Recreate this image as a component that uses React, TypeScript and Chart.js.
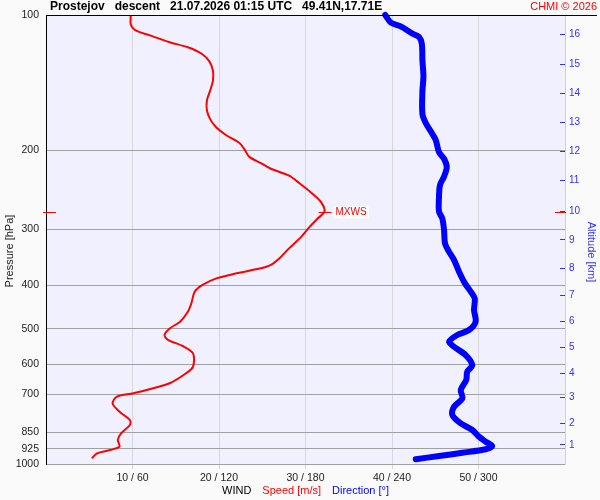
import React, { useEffect, useRef } from "react";
import { Chart, registerables } from "chart.js";

Chart.register(...registerables);

const FONT = "'Liberation Sans', Arial, Helvetica, sans-serif";

const titleText = "Prostejov   descent   21.07.2026 01:15 UTC   49.41N,17.71E";
const creditText = "CHMI \u00a9 2026";
const legendParts = ["WIND", "Speed [m/s]", "Direction [\u00b0]"];

// left axis (pressure, hPa)
const pressureTicks = [100, 200, 300, 400, 500, 600, 700, 850, 925, 1000];
// bottom axis (speed m/s / direction deg)
const windTicks = [10, 20, 30, 40, 50];
const windTickLabels = ["10 / 60", "20 / 120", "30 / 180", "40 / 240", "50 / 300"];
// right axis (altitude km placed at the pressure where it is reached)
const altitudeKm = ["16", "15", "14", "13", "12", "11", "10", "9", "8", "7", "6", "5", "4", "3", "2", "1"];
const altitudePressure = [110.6, 128.8, 149.7, 173.4, 200.9, 233.4, 274.2, 317.0, 366.0, 421.0, 482.0, 549.6, 627.1, 709.3, 811.5, 907.1];

// wind speed profile (hPa, m/s)
const speedPressure = [971, 947, 931, 915, 884, 854, 819, 798, 765, 733, 708, 696, 678, 661, 628, 607, 567, 546, 529, 516, 499, 482, 458, 439, 413, 399, 386, 376, 367, 360, 348, 331, 312, 296, 284, 274, 261, 250, 237, 228, 220, 214, 207, 200, 193, 185, 178, 171, 163, 155, 147, 140, 133, 127, 122, 118, 115, 111, 108, 105, 100];
const speedValues = [5.3, 5.9, 7.4, 8.5, 8.3, 8.7, 9.7, 9.7, 8.5, 7.7, 8.2, 10.1, 12.4, 14.3, 16.2, 17.0, 17.0, 15.8, 14.1, 13.7, 14.3, 15.5, 16.4, 16.8, 17.2, 18.1, 19.7, 22.0, 24.7, 26.0, 27.0, 28.1, 29.5, 30.5, 31.4, 32.2, 31.8, 30.8, 29.3, 28.1, 26.0, 24.9, 23.5, 23.0, 22.4, 20.8, 19.7, 19.0, 18.6, 18.6, 19.0, 19.3, 19.3, 18.9, 18.0, 16.4, 14.3, 12.0, 10.3, 9.8, 9.8];

// wind direction profile (hPa, deg)
const dirPressure = [976, 960, 944, 927, 912, 892, 869, 840, 812, 778, 746, 714, 684, 650, 623, 602, 572, 548, 534, 516, 503, 482, 454, 428, 413, 396, 373, 351, 337, 323, 301, 284, 274, 254, 239, 229, 218, 209, 202, 190, 184, 174, 166, 148, 137, 126, 116, 112, 110, 106, 104, 100];
const dirValues = [256.5, 272.6, 288.8, 305.0, 309.5, 305.0, 300.3, 295.7, 287.7, 281.9, 283.0, 288.8, 287.7, 291.5, 292.2, 295.7, 291.1, 283.0, 279.6, 285.3, 293.4, 298.0, 296.9, 297.4, 294.6, 290.6, 286.5, 283.0, 279.6, 276.8, 276.1, 274.9, 272.6, 272.6, 273.3, 276.1, 278.0, 276.1, 272.6, 270.4, 268.0, 263.4, 261.1, 261.1, 261.8, 261.1, 260.7, 258.8, 254.2, 246.1, 239.2, 235.3];

const bgPlugin = {
  id: "bgPlugin",
  beforeDraw(chart: any) {
    const { ctx, chartArea: a } = chart;
    ctx.save();
    ctx.fillStyle = "#fafafa";
    ctx.fillRect(0, 0, chart.width, chart.height);
    ctx.fillStyle = "#f0f0ff";
    ctx.fillRect(a.left, a.top, a.right - a.left, a.bottom - a.top);
    ctx.restore();
  },
};

const overlayPlugin = {
  id: "overlayPlugin",
  afterDraw(chart: any) {
    const { ctx, chartArea: a, scales } = chart;
    ctx.save();
    // top frame line
    ctx.strokeStyle = "#000000";
    ctx.lineWidth = 1;
    ctx.beginPath();
    ctx.moveTo(a.left, a.top + 0.5);
    ctx.lineTo(597, a.top + 0.5);
    ctx.stroke();

    // title + credit
    ctx.textBaseline = "middle";
    ctx.font = `bold 12px ${FONT}`;
    ctx.fillStyle = "#000000";
    ctx.textAlign = "left";
    ctx.fillText(titleText, 50, 7);
    ctx.font = `11px ${FONT}`;
    ctx.fillStyle = "#ff0000";
    ctx.textAlign = "right";
    ctx.fillText(creditText, 597, 7);

    // axis titles
    ctx.font = `11px ${FONT}`;
    ctx.textAlign = "center";
    ctx.save();
    ctx.translate(10, 251);
    ctx.rotate(-Math.PI / 2);
    ctx.fillStyle = "#222222";
    ctx.fillText("Pressure [hPa]", 0, 0);
    ctx.restore();
    ctx.save();
    ctx.translate(591, 252);
    ctx.rotate(Math.PI / 2);
    ctx.fillStyle = "#3030ff";
    ctx.fillText("Altitude [km]", 0, 0);
    ctx.restore();

    // bottom legend
    const colors = ["#000000", "#ff0000", "#0000ff"];
    const gap = 11;
    const widths = legendParts.map((t) => ctx.measureText(t).width);
    const total = widths.reduce((s, w) => s + w, 0) + gap * (legendParts.length - 1);
    let lx = (a.left + a.right) / 2 - total / 2;
    ctx.textAlign = "left";
    legendParts.forEach((t, i) => {
      ctx.fillStyle = colors[i];
      ctx.fillText(t, lx, 491);
      lx += widths[i] + gap;
    });

    // MXWS marker at maximum wind speed
    let mi = 0;
    speedValues.forEach((v, i) => {
      if (v > speedValues[mi]) mi = i;
    });
    const px = scales.x.getPixelForValue(speedValues[mi]);
    const py = Math.round(scales.y.getPixelForValue(speedPressure[mi])) + 0.5;
    ctx.strokeStyle = "#ff0000";
    ctx.lineWidth = 1;
    ctx.beginPath();
    ctx.moveTo(px - 6, py);
    ctx.lineTo(px + 7, py);
    ctx.moveTo(a.left - 3, py);
    ctx.lineTo(a.left + 10, py);
    ctx.moveTo(a.right - 10, py);
    ctx.lineTo(a.right + 1, py);
    ctx.stroke();
    ctx.font = `10px ${FONT}`;
    const tx = px + 11;
    const tw = ctx.measureText("MXWS").width;
    ctx.fillStyle = "#ffffff";
    ctx.fillRect(tx - 2, py - 6, tw + 4, 12);
    ctx.fillStyle = "#ff0000";
    ctx.textBaseline = "middle";
    ctx.fillText("MXWS", tx, py);
    ctx.restore();
  },
};

export default function App() {
  const ref = useRef<HTMLCanvasElement | null>(null);

  useEffect(() => {
    document.body.style.margin = "0";
    const canvas = ref.current;
    if (!canvas) return;
    const speedData = speedPressure.map((p, i) => ({ x: speedValues[i], y: p }));
    const dirData = dirPressure.map((p, i) => ({ x: dirValues[i], y: p }));

    const chart = new Chart(canvas, {
      type: "line",
      data: {
        datasets: [
          {
            label: "Speed [m/s]",
            data: speedData,
            borderColor: "#ff0000",
            borderWidth: 2,
            pointRadius: 0,
            tension: 0.3,
            xAxisID: "x",
            yAxisID: "y",
            clip: false,
          } as any,
          {
            label: "Direction [\u00b0]",
            data: dirData,
            borderColor: "#0000ff",
            borderWidth: 6,
            pointRadius: 0,
            tension: 0.3,
            borderCapStyle: "round",
            borderJoinStyle: "round",
            xAxisID: "x2",
            yAxisID: "y",
            clip: false,
          } as any,
        ],
      },
      options: {
        animation: false,
        responsive: false,
        devicePixelRatio: 1,
        events: [],
        layout: { padding: { top: 15, left: 0, right: 0, bottom: 0 } },
        plugins: {
          legend: { display: false },
          tooltip: { enabled: false },
          title: { display: false },
        },
        scales: {
          x: {
            type: "linear",
            position: "bottom",
            min: 0,
            max: 60,
            afterBuildTicks: (s: any) => {
              s.ticks = windTicks.map((v) => ({ value: v }));
            },
            afterFit: (s: any) => {
              s.height = 36;
            },
            grid: { color: "#d8d8d8", lineWidth: 1, drawTicks: true, tickLength: 5 },
            border: { display: false },
            ticks: {
              autoSkip: false,
              maxRotation: 0,
              padding: 3,
              color: "#222222",
              font: { family: FONT, size: 10.5 },
              callback: (_v: any, i: number) => windTickLabels[i],
            },
          },
          x2: { type: "linear", display: false, min: 0, max: 360 },
          y: {
            type: "logarithmic",
            position: "left",
            min: 100,
            max: 1000,
            reverse: true,
            afterBuildTicks: (s: any) => {
              s.ticks = pressureTicks.map((v) => ({ value: v }));
            },
            afterFit: (s: any) => {
              s.width = 46;
            },
            grid: { color: "#a0a0a0", lineWidth: 1, drawTicks: false },
            border: { display: true, color: "#000000", width: 1 },
            ticks: {
              autoSkip: false,
              padding: 7,
              color: "#222222",
              font: { family: FONT, size: 10.5 },
              callback: (v: any) => String(v),
            },
          },
          y2: {
            type: "logarithmic",
            position: "right",
            min: 100,
            max: 1000,
            reverse: true,
            afterBuildTicks: (s: any) => {
              s.ticks = altitudePressure.map((v) => ({ value: v }));
            },
            afterFit: (s: any) => {
              s.width = 35;
            },
            grid: { drawOnChartArea: false, color: "#3030ff", drawTicks: true, tickLength: -5 },
            border: { display: true, color: "#d0d0d0", width: 1 },
            ticks: {
              autoSkip: false,
              padding: 9,
              color: "#3030ff",
              font: { family: FONT, size: 10 },
              callback: (_v: any, i: number) => altitudeKm[i],
            },
          },
        },
      } as any,
      plugins: [bgPlugin, overlayPlugin],
    });
    return () => chart.destroy();
  }, []);

  return (
    <div style={{ position: "absolute", left: 0, top: 0, width: 600, height: 500 }}>
      <canvas ref={ref} width={600} height={500} style={{ display: "block", width: 600, height: 500 }} />
    </div>
  );
}
